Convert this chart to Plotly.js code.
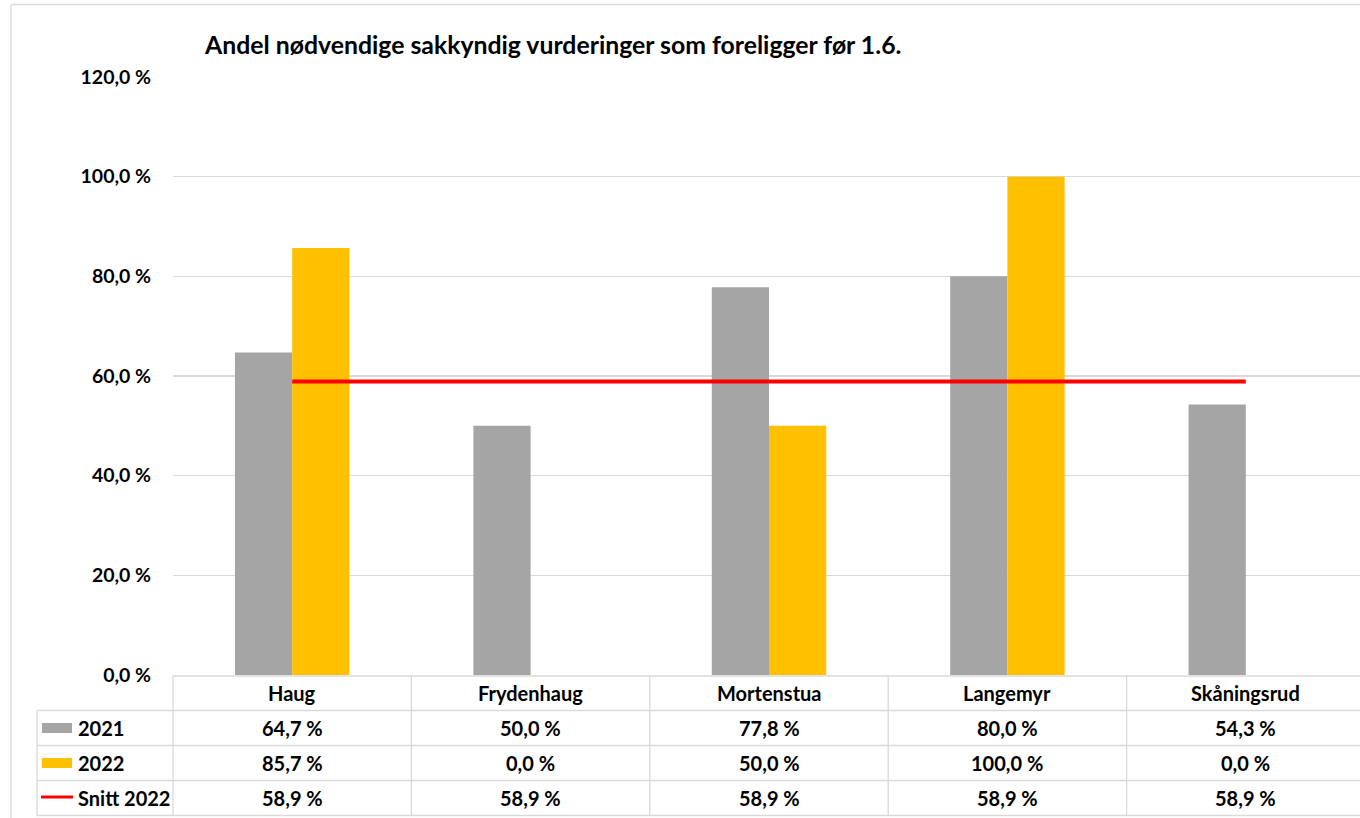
<!DOCTYPE html>
<html>
<head>
<meta charset="utf-8">
<script src="https://cdn.plot.ly/plotly-3.0.1.min.js"></script>
<style>
html,body{margin:0;padding:0;background:#fff;overflow:hidden;}
#chart{width:1365px;height:818px;}
</style>
</head>
<body>
<div id="chart"></div>
<script>
// ---- data ----
const categories = ["Haug", "Frydenhaug", "Mortenstua", "Langemyr", "Skåningsrud"];
const values2021 = [64.7, 50.0, 77.8, 80.0, 54.3];
const values2022 = [85.7, 0.0, 50.0, 100.0, 0.0];
const snitt2022 = [58.9, 58.9, 58.9, 58.9, 58.9];
const seriesNames = ["2021", "2022", "Snitt 2022"];
const yTicks = [0, 20, 40, 60, 80, 100, 120];
const titleText = "Andel nødvendige sakkyndig vurderinger som foreligger før 1.6.";

// ---- geometry helpers ----
const FIG_W = 1365, FIG_H = 818;
const PL = 173, PR = 1365, PT = 77, PB = 675;
const PW = PR - PL, PH = PB - PT;
const px = v => (v - PL) / PW;
const py = v => (PB - v) / PH;

const FONT = "Lato, 'Open Sans', sans-serif";
const GRAY = "#a5a5a5", YELLOW = "#ffc000", RED = "#ff0000", LINE = "#d9d9d9";

const fmt = v => v.toFixed(1).replace(".", ",") + " %";

const traces = [
  {type: "bar", x: categories, y: values2021, name: seriesNames[0], marker: {color: GRAY}, hoverinfo: "skip"},
  {type: "bar", x: categories, y: values2022, name: seriesNames[1], marker: {color: YELLOW}, hoverinfo: "skip"},
  {type: "scatter", mode: "lines", x: categories, y: snitt2022, name: seriesNames[2],
   line: {color: RED, width: 4}, hoverinfo: "skip"}
];

const shapes = [];
const annotations = [];
const hline = (x0, x1, y) => shapes.push({type: "line", xref: "paper", yref: "paper",
  x0: px(x0), x1: px(x1), y0: py(y), y1: py(y), line: {color: LINE, width: 1.3}});
const vline = (x, y0, y1) => shapes.push({type: "line", xref: "paper", yref: "paper",
  x0: px(x), x1: px(x), y0: py(y0), y1: py(y1), line: {color: LINE, width: 1.3}});

// outer chart border
hline(11, 1365, 4.5);
vline(11, 4.5, 818);

// data table grid
const rowTops = [676, 710.5, 745.5, 780.5, 815.5];
hline(PL, PR, rowTops[0]);
for (let i = 1; i < rowTops.length; i++) hline(37, PR, rowTops[i]);
vline(37, rowTops[1], rowTops[4]);
const colW = PW / categories.length;
for (let i = 0; i <= categories.length; i++) {
  const x = PL + i * colW;
  vline(i === categories.length ? x - 1 : x, rowTops[0], rowTops[4]);
}

const cellFont = {family: FONT, size: 20, color: "#000", weight: "bold"};
const rowCenters = [693, 727.5, 762.5, 797.5];
// header row: categories
categories.forEach((c, i) => annotations.push({xref: "x", yref: "paper", x: c, y: py(rowCenters[0]),
  text: "<b>" + c + "</b>", showarrow: false, font: cellFont, xanchor: "center", yanchor: "middle"}));
// value rows
const rows = [values2021, values2022, snitt2022];
rows.forEach((arr, r) => {
  arr.forEach((v, i) => annotations.push({xref: "x", yref: "paper", x: categories[i], y: py(rowCenters[r + 1]),
    text: "<b>" + fmt(v) + "</b>", showarrow: false, font: cellFont, xanchor: "center", yanchor: "middle"}));
  annotations.push({xref: "paper", yref: "paper", x: px(76), y: py(rowCenters[r + 1]),
    text: "<b>" + seriesNames[r] + "</b>", showarrow: false, font: cellFont, xanchor: "left", yanchor: "middle"});
});
// legend keys
shapes.push({type: "rect", xref: "paper", yref: "paper", x0: px(42), x1: px(72), y0: py(733), y1: py(723),
  fillcolor: GRAY, line: {width: 0}});
shapes.push({type: "rect", xref: "paper", yref: "paper", x0: px(42), x1: px(72), y0: py(768), y1: py(758),
  fillcolor: YELLOW, line: {width: 0}});
shapes.push({type: "line", xref: "paper", yref: "paper", x0: px(41), x1: px(73), y0: py(797), y1: py(797),
  line: {color: RED, width: 3}});

const layout = {
  width: FIG_W, height: FIG_H,
  margin: {l: PL, r: FIG_W - PR, t: PT, b: FIG_H - PB, pad: 0},
  paper_bgcolor: "#fff", plot_bgcolor: "#fff",
  showlegend: false,
  barmode: "group", bargap: 0.52, bargroupgap: 0,
  title: {text: "<b>" + titleText + "</b>", font: {family: FONT, size: 24.8, color: "#000"},
    xref: "container", yref: "container", x: 205 / FIG_W, xanchor: "left", y: 1 - 45 / FIG_H, yanchor: "middle"},
  xaxis: {type: "category", range: [-0.5, categories.length - 0.5], showticklabels: false,
    showgrid: false, showline: false, zeroline: false, ticks: ""},
  yaxis: {range: [0, 120], tickmode: "array", tickvals: yTicks, ticktext: yTicks.map(fmt),
    showgrid: true, gridcolor: LINE, gridwidth: 1.3, zeroline: false, showline: false,
    ticks: "outside", ticklen: 17, tickcolor: "rgba(0,0,0,0)",
    tickfont: {family: FONT, size: 19.5, color: "#000", weight: "bold"}},
  shapes: shapes,
  annotations: annotations
};

Plotly.newPlot("chart", traces, layout, {displayModeBar: false, staticPlot: true});
</script>
</body>
</html>
